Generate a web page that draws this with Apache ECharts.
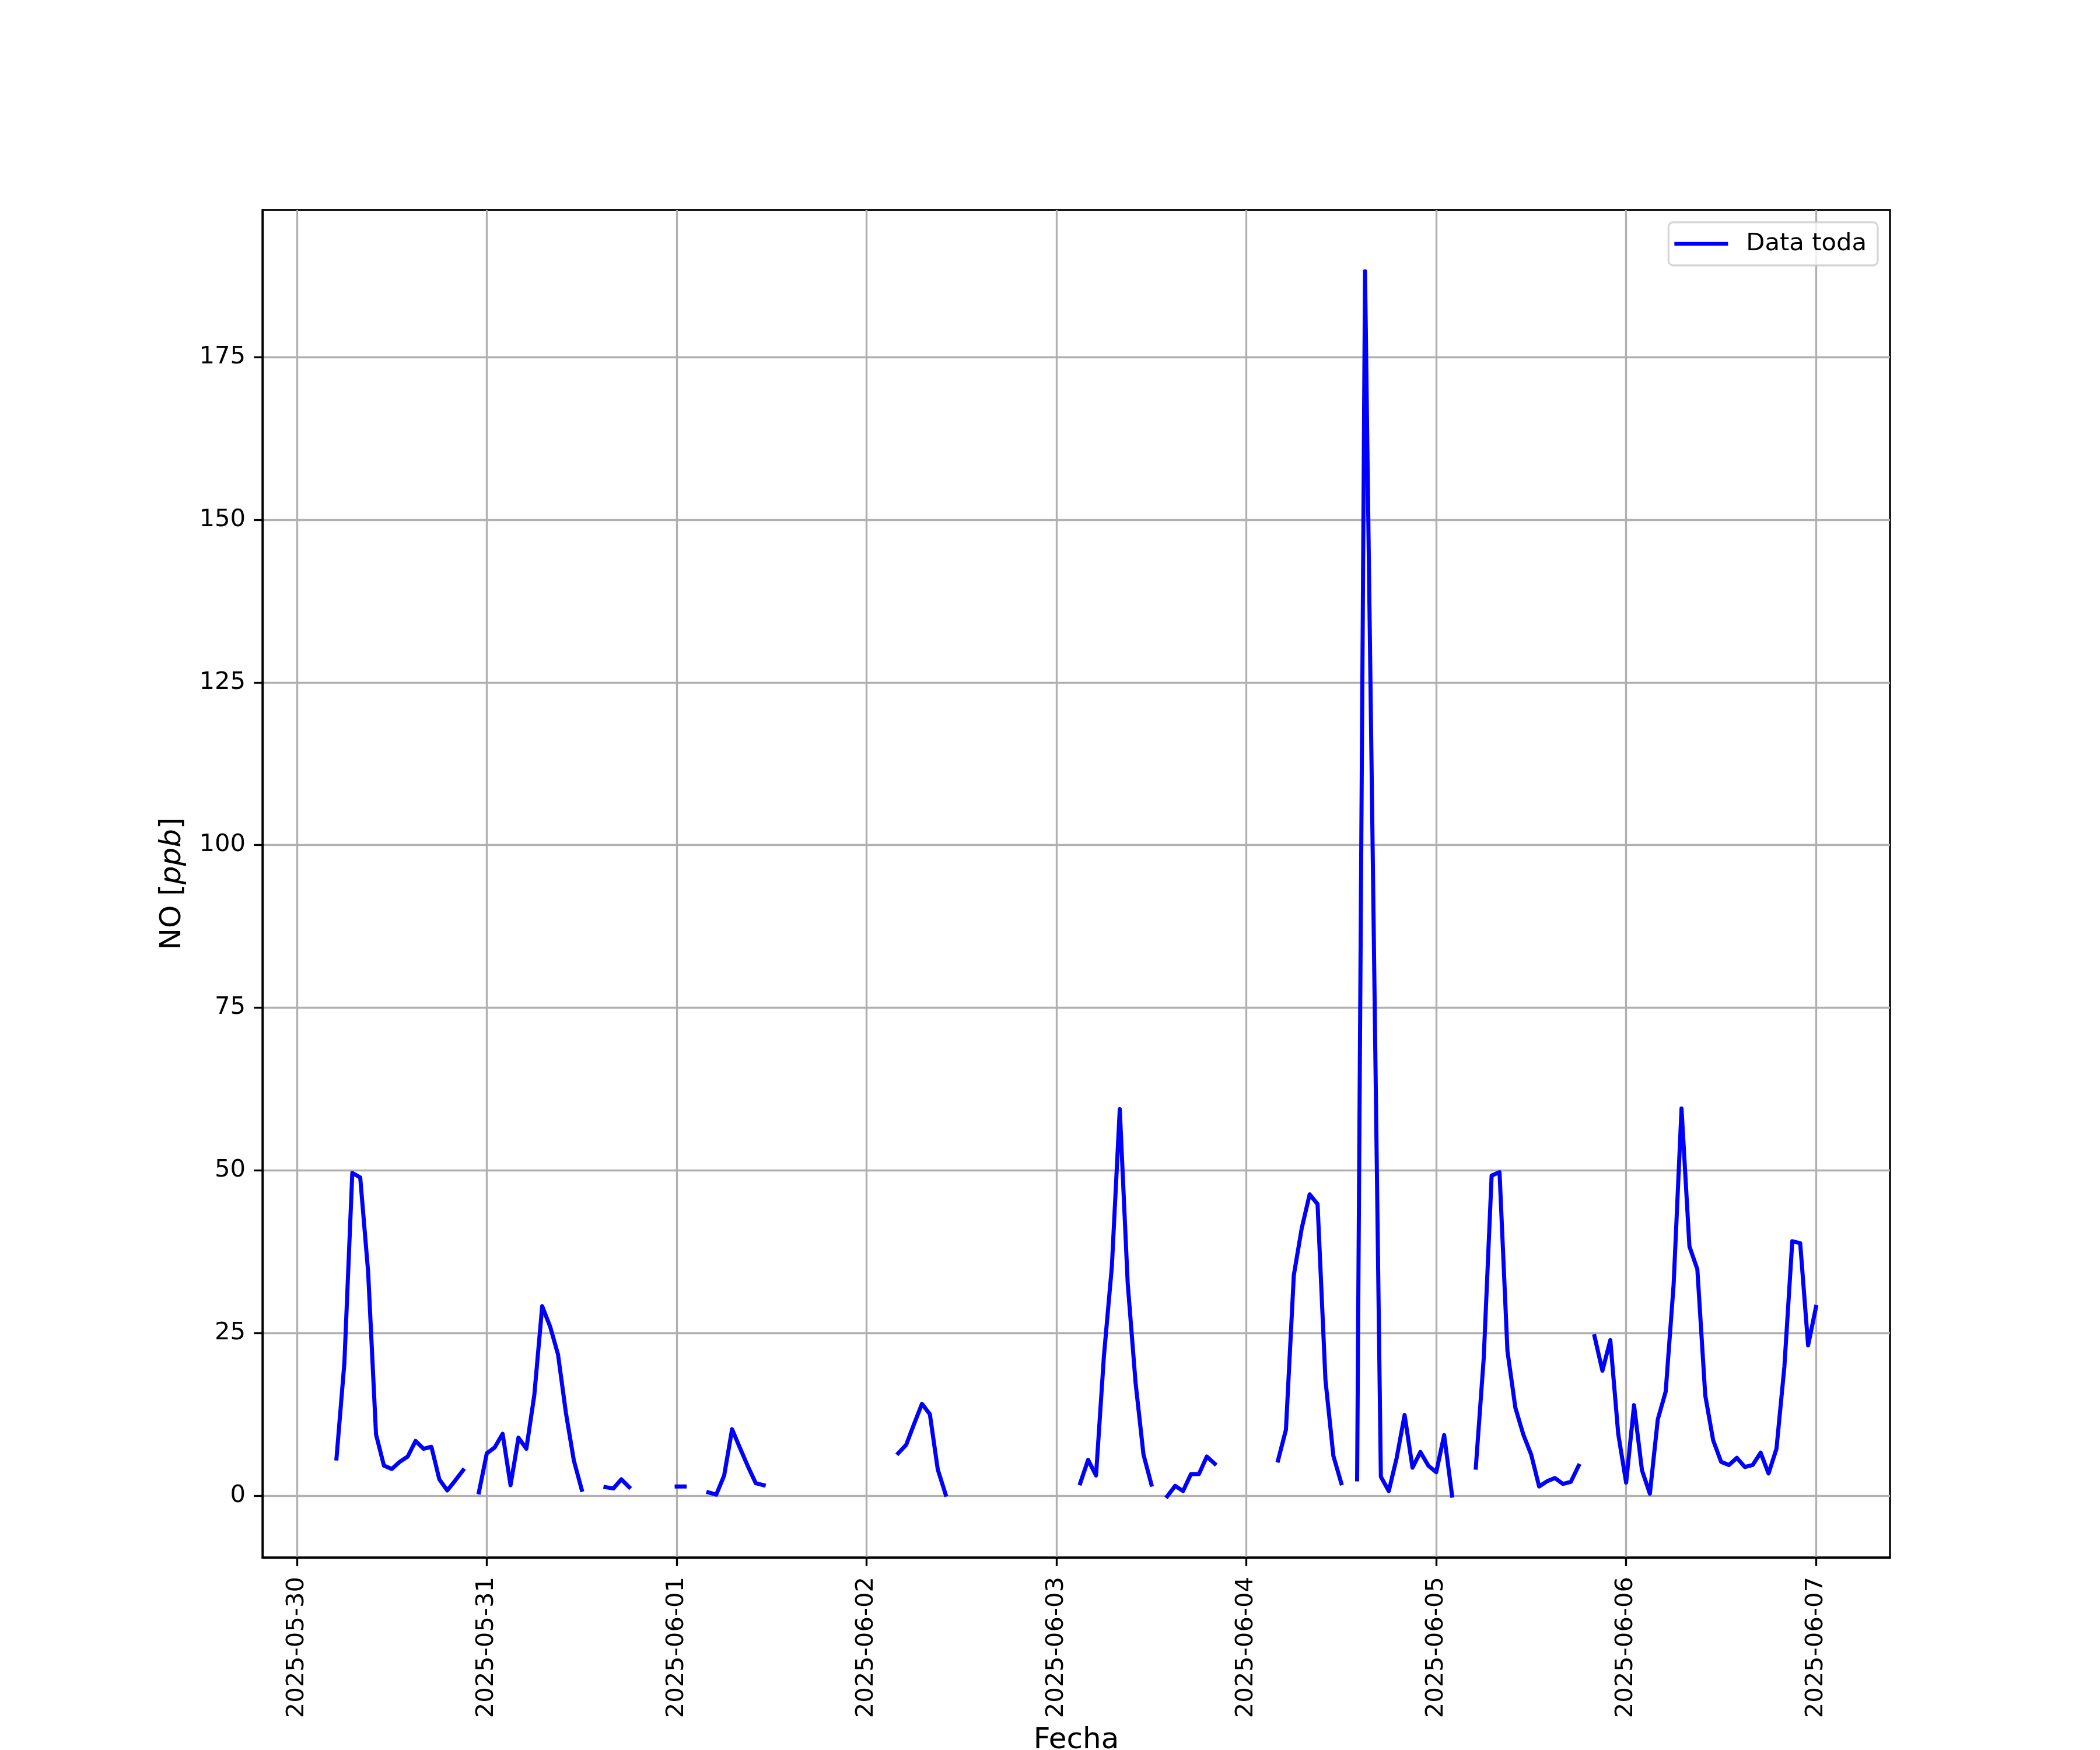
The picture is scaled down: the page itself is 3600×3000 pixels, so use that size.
<!DOCTYPE html>
<html>
<head>
<meta charset="utf-8">
<script src="https://cdn.jsdelivr.net/npm/echarts@6/dist/echarts.min.js"></script>
<style>
  html, body { margin: 0; padding: 0; background: #ffffff; }
  #chart { width: 3600px; height: 3000px; }
</style>
</head>
<body>
<div id="chart"></div>
<script>
// Hourly NO readings, first value at 2025-05-30 05:00 (hour 5 counted from 2025-05-30 00:00).
const firstHour = 5;
const noPpb = [
  // 2025-05-30 05:00 .. 23:00
  5.7, 20.4, 49.6, 48.9, 34.4, 9.4, 4.6, 4.1, 5.2, 6.0, 8.4, 7.2, 7.5, 2.5, 0.8, 2.3, 3.9, null, 0.5,
  // 2025-05-31
  6.5, 7.4, 9.5, 1.6, 8.9, 7.2, 15.4, 29.1, 26.0, 21.7, 12.7, 5.4, 0.9, null, null, 1.3, 1.1, 2.5, 1.3, null, null, null, null, null,
  // 2025-06-01
  1.4, 1.4, null, null, 0.5, 0.15, 3.1, 10.2, 7.3, 4.5, 1.9, 1.6, null, null, null, null, null, null, null, null, null, null, null, null,
  // 2025-06-02
  null, null, null, null, 6.5, 7.8, 11.0, 14.1, 12.5, 4.0, 0.15, null, null, null, null, null, null, null, null, null, null, null, null, null,
  // 2025-06-03
  null, null, null, 1.9, 5.5, 3.1, 21.5, 35.2, 59.4, 32.7, 17.3, 6.3, 1.7, null, -0.1, 1.5, 0.7, 3.3, 3.3, 6.0, 4.9, null, null, null,
  // 2025-06-04
  null, null, null, null, 5.4, 10.1, 33.9, 41.1, 46.3, 44.8, 17.7, 6.1, 1.9, null, 2.5, 188.2, 96.0, 2.9, 0.7, 5.8, 12.4, 4.3, 6.7, 4.6,
  // 2025-06-05
  3.6, 9.3, 0.0, null, null, 4.3, 21.1, 49.2, 49.7, 22.2, 13.5, 9.4, 6.3, 1.4, 2.2, 2.7, 1.8, 2.1, 4.6, null, 24.5, 19.2, 23.9, 9.5,
  // 2025-06-06
  2.0, 13.9, 3.9, 0.3, 11.7, 16.0, 32.4, 59.5, 38.3, 34.8, 15.4, 8.5, 5.2, 4.7, 5.8, 4.4, 4.7, 6.6, 3.4, 7.2, 19.8, 39.1, 38.8, 23.1,
  // 2025-06-07 00:00
  29.0
];
const dayLabels = ['2025-05-30', '2025-05-31', '2025-06-01', '2025-06-02', '2025-06-03',
                   '2025-06-04', '2025-06-05', '2025-06-06', '2025-06-07'];
const yTicks = [0, 25, 50, 75, 100, 125, 150, 175];
const seriesName = 'Data toda';

const points = noPpb.map((v, i) => [firstHour + i, v]);
const xTicks = dayLabels.map((d, i) => i * 24);

// matplotlib-like 5% margins around the data
const xs = points.map(p => p[0]);
const ys = noPpb.filter(v => v !== null);
const xMinD = Math.min(...xs), xMaxD = Math.max(...xs);
const yMinD = Math.min(...ys), yMaxD = Math.max(...ys);
const xPad = 0.05 * (xMaxD - xMinD), yPad = 0.05 * (yMaxD - yMinD);

const FONT = 'DejaVu Sans';
const LW = 3.33;
const chart = echarts.init(document.getElementById('chart'), null, { renderer: 'canvas' });
chart.setOption({
  animation: false,
  backgroundColor: '#ffffff',
  textStyle: { fontFamily: FONT },
  grid: {
    left: 450, right: 360, top: 360, bottom: 330,
    outerBoundsMode: 'none', containLabel: false,
    show: true, borderColor: '#000000', borderWidth: LW, backgroundColor: 'transparent'
  },
  legend: {
    data: [seriesName],
    right: 381, top: 381,
    icon: 'rect', itemWidth: 92, itemHeight: 6.5,
    padding: [13, 19, 13, 10],
    backgroundColor: 'rgba(255,255,255,0.8)',
    borderColor: 'rgba(204,204,204,0.8)', borderWidth: 3.3, borderRadius: 8,
    textStyle: { fontFamily: FONT, fontSize: 41.7, color: '#000', padding: [0, 0, 0, 26], lineHeight: 48 }
  },
  xAxis: {
    type: 'value',
    min: xMinD - xPad, max: xMaxD + xPad,
    name: 'Fecha', nameLocation: 'middle', nameGap: 289,
    nameTextStyle: { fontFamily: FONT, fontSize: 50, color: '#000' },
    axisLine: { show: true, onZero: false, lineStyle: { color: '#000', width: LW } },
    axisTick: { show: true, inside: false, length: 14.6, customValues: xTicks, lineStyle: { color: '#000', width: LW } },
    axisLabel: {
      show: true, rotate: 90, margin: 33, customValues: xTicks,
      fontFamily: FONT, fontSize: 41.7, color: '#000',
      formatter: v => dayLabels[Math.round(v / 24)]
    },
    splitLine: { show: true, lineStyle: { color: '#b0b0b0', width: LW } }
  },
  yAxis: {
    type: 'value',
    min: yMinD - yPad, max: yMaxD + yPad,
    name: '{a|NO [}{b|ppb}{a|]}', nameLocation: 'middle', nameGap: 129, nameRotate: 90,
    nameTextStyle: {
      fontFamily: FONT, fontSize: 50, color: '#000',
      rich: {
        a: { fontFamily: FONT, fontSize: 50, color: '#000' },
        b: { fontFamily: FONT, fontSize: 50, color: '#000', fontStyle: 'italic' }
      }
    },
    axisLine: { show: true, onZero: false, lineStyle: { color: '#000', width: LW } },
    axisTick: { show: true, inside: false, length: 14.6, customValues: yTicks, lineStyle: { color: '#000', width: LW } },
    axisLabel: {
      show: true, margin: 29, customValues: yTicks,
      fontFamily: FONT, fontSize: 41.7, color: '#000'
    },
    splitLine: { show: true, lineStyle: { color: '#b0b0b0', width: LW } }
  },
  series: [{
    name: seriesName,
    type: 'line',
    data: points,
    showSymbol: false,
    connectNulls: false,
    lineStyle: { color: '#0000ff', width: 7, cap: 'square', join: 'round' },
    itemStyle: { color: '#0000ff' }
  }]
});
</script>
</body>
</html>
